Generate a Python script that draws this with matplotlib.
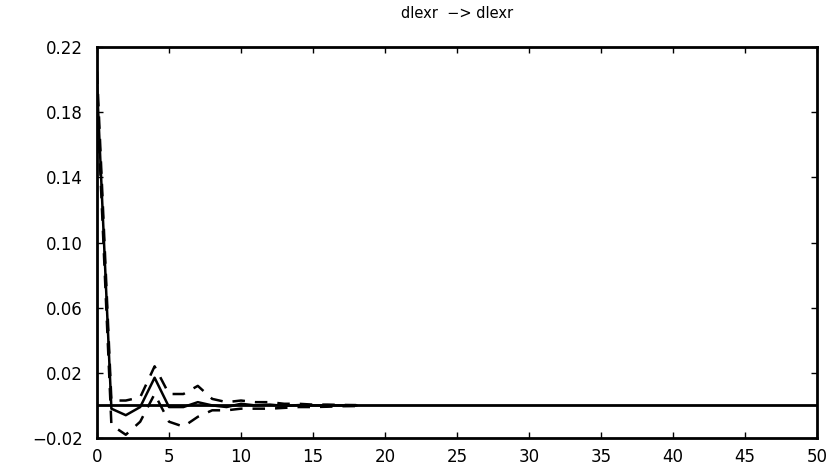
import matplotlib
matplotlib.use("Agg")
import matplotlib.pyplot as plt
import numpy as np

horizon = list(range(19))
irf = [0.197, -0.002, -0.006, -0.001, 0.017, -0.001, -0.001, 0.002, 0.000, -0.001,
       0.001, 0.000, 0.0005, -0.0003, 0.0002, 0.0000, 0.0001, 0.0000, 0.0000]
upper = [0.205, 0.003, 0.003, 0.005, 0.024, 0.007, 0.007, 0.012, 0.004, 0.002,
         0.003, 0.002, 0.002, 0.001, 0.001, 0.0005, 0.0005, 0.0003, 0.0002]
lower = [0.190, -0.012, -0.018, -0.010, 0.007, -0.010, -0.013, -0.007, -0.003, -0.003,
         -0.002, -0.002, -0.002, -0.0015, -0.001, -0.001, -0.0008, -0.0005, -0.0004]

xticks = [0, 5, 10, 15, 20, 25, 30, 35, 40, 45, 50]
yticks = [-0.02, 0.02, 0.06, 0.10, 0.14, 0.18, 0.22]
ytick_labels = ["\u22120.02", "0.02", "0.06", "0.10", "0.14", "0.18", "0.22"]
title = "dlexr  \u2212> dlexr"

plt.rcParams['font.family'] = ['DejaVu Sans']

fig = plt.figure(figsize=(8.37, 4.68), dpi=100)
ax = fig.add_axes([97/837, 1 - 438/468, (817-97)/837, (438-47)/468])

ax.axhline(0, color="black", lw=2.0, zorder=2)
ax.plot(horizon, irf, color="black", lw=1.8, zorder=3)
ax.plot(horizon, upper, color="black", lw=1.8, linestyle=(0, (5, 4)), zorder=3)
ax.plot(horizon, lower, color="black", lw=1.8, linestyle=(0, (5, 4)), zorder=3)

ax.set_xlim(0, 50)
ax.set_ylim(-0.02, 0.22)
ax.set_xticks(xticks)
ax.set_xticklabels([str(t) for t in xticks])
ax.set_yticks(yticks)
ax.set_yticklabels(ytick_labels)
ax.tick_params(direction="in", length=4, width=1, top=True, right=True,
               labelsize=12)
ax.tick_params(axis="y", pad=10)
ax.tick_params(axis="x", pad=7)
for s in ax.spines.values():
    s.set_linewidth(2.0)

fig.text(457/837, 1 - 14/468, title, fontsize=10.5, ha="center", va="center")

fig.savefig("out.png", dpi=100)
